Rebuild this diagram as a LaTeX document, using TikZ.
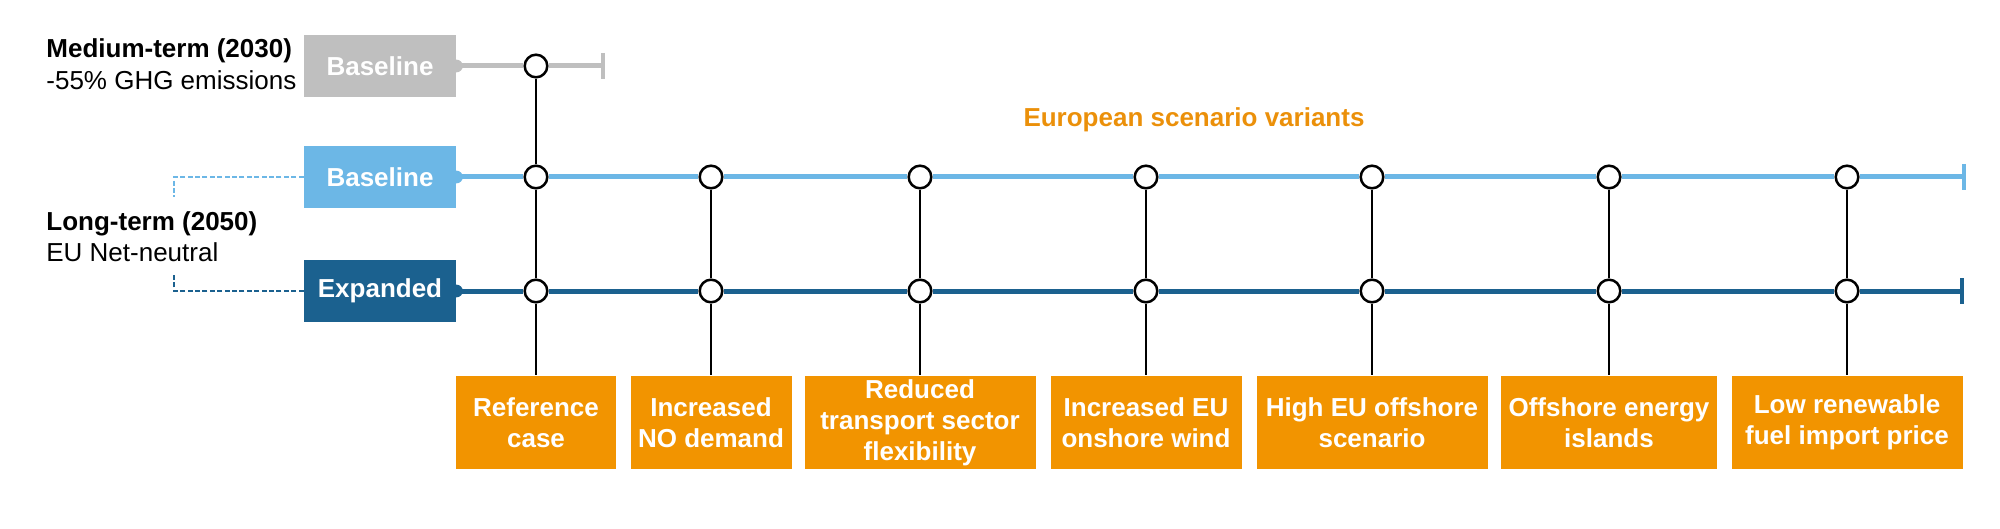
\documentclass[tikz,border=0pt]{standalone}
\usepackage{fontspec}
\setmainfont{Liberation Sans}
\definecolor{grayc}{HTML}{BFBFBF}
\definecolor{lblue}{HTML}{6CB7E6}
\definecolor{dblue}{HTML}{1B618F}
\definecolor{orng}{HTML}{F29400}
\definecolor{orngtxt}{HTML}{EB900A}
\tikzset{
  lbl/.style={anchor=base west, inner sep=0pt, font=\fontsize{13}{15.5}\selectfont},
  sbox/.style={rectangle, minimum width=76pt, minimum height=31pt, inner sep=0pt, text=white, font=\fontsize{13}{15.5}\selectfont\bfseries},
  obox/.style={rectangle, fill=orng, minimum height=46.75pt, inner sep=0pt, text=white, align=center, font=\fontsize{13}{15.5}\selectfont\bfseries},
  ring/.style={circle, draw=black, line width=1.25pt, fill=white, minimum size=11.3pt, inner sep=0pt},
  vline/.style={draw=black, line width=1pt},
  track/.style={line width=2.5pt},
  tick/.style={line width=2pt},
  dashc/.style={line width=0.75pt, dash pattern=on 2.5pt off 1.2pt},
}
\begin{document}
\begin{tikzpicture}[x=0.5pt,y=-0.5pt]
\useasboundingbox (0,0) rectangle (2000,529);

% left labels
\node[lbl] (mt1) at (46,58) {\bfseries Medium-term (2030)};
\node[lbl] (mt2) at (46,90) {-55\% GHG emissions};
\node[lbl] (lt1) at (46,230) {\bfseries Long-term (2050)};
\node[lbl] (lt2) at (46,261) {EU Net-neutral};

% title
\node[anchor=base, inner sep=0pt, text=orngtxt, font=\fontsize{13}{15.5}\selectfont\bfseries] (title) at (1194,127) {European scenario variants};

% scenario boxes
\node[sbox, fill=grayc] (gbox) at (380,66) {Baseline};
\node[sbox, fill=lblue] (bbox) at (380,177) {Baseline};
\node[sbox, fill=dblue] (dbox) at (380,291) {Expanded};

% track ends
\coordinate (gEnd) at (603,66);
\coordinate (bEnd) at (1964,177);
\coordinate (dEnd) at (1962,291);
\coordinate (dashB) at (174,197);
\coordinate (dashD) at (174,273);

% variant boxes
\node[obox, minimum width=80pt]   (o1) at (536,422.5)  {Reference\\case};
\node[obox, minimum width=80.5pt] (o2) at (711,422.5)  {Increased\\NO demand};
\node[obox, minimum width=115.5pt](o3) at (920,422.5)  {Reduced\\transport sector\\flexibility};
\node[obox, minimum width=95.5pt] (o4) at (1146,422.5) {Increased EU\\onshore wind};
\node[obox, minimum width=115.5pt](o5) at (1372,422.5) {High EU offshore\\scenario};
\node[obox, minimum width=108pt]  (o6) at (1609,422.5) {Offshore energy\\islands};
\node[obox, minimum width=115.5pt](o7) at (1847,422.5) {Low renewable\\fuel import price};

% rings
\node[ring] (g1) at (536,66) {};
\foreach \i/\x in {1/536,2/711,3/920,4/1146,5/1372,6/1609,7/1847}{
  \node[ring] (b\i) at (\x,177) {};
  \node[ring] (d\i) at (\x,291) {};
}

% tracks
\draw[track, grayc] (gbox.east) -- (g1) -- (gEnd);
\draw[tick, grayc] (gEnd) ++(0,-13) -- ++(0,26);
\fill[grayc] (gbox.east) circle (3.2pt);

\draw[track, lblue] (bbox.east) -- (b1) -- (b2) -- (b3) -- (b4) -- (b5) -- (b6) -- (b7) -- (bEnd);
\draw[tick, lblue] (bEnd) ++(0,-13) -- ++(0,26);
\fill[lblue] (bbox.east) circle (3.2pt);

\draw[track, dblue] (dbox.east) -- (d1) -- (d2) -- (d3) -- (d4) -- (d5) -- (d6) -- (d7) -- (dEnd);
\draw[tick, dblue] (dEnd) ++(0,-13) -- ++(0,26);
\fill[dblue] (dbox.east) circle (3.2pt);

% dashed brackets
\draw[dashc, lblue] (bbox.west) -| (dashB);
\draw[dashc, dblue] (dbox.west) -| (dashD);

% verticals
\draw[vline] (g1) -- (b1) -- (d1) -- (o1);
\foreach \i in {2,...,7}{
  \draw[vline] (b\i) -- (d\i) -- (o\i);
}
\end{tikzpicture}
\end{document}
